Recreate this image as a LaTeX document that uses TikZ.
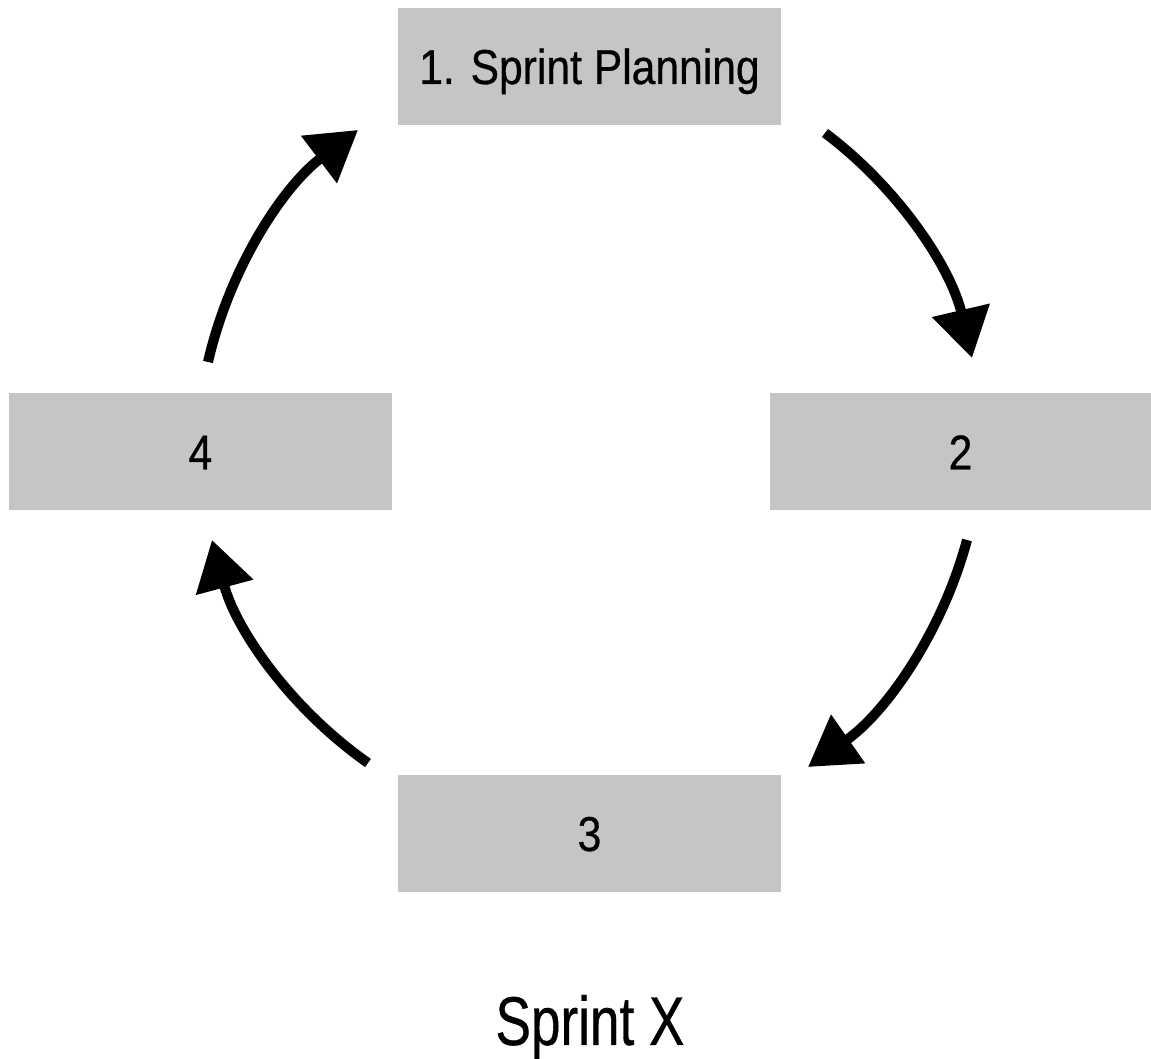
\documentclass[tikz,border=0pt]{standalone}
\usepackage{fontspec}
\setmainfont{Liberation Sans}
\newfontfamily\boxfont{Liberation Sans}[FakeStretch=0.87,FakeBold=0.6]
\newfontfamily\titlefont{Liberation Sans}[FakeStretch=0.77,FakeBold=0.5]
\usetikzlibrary{arrows.meta}
\definecolor{boxgray}{RGB}{197,197,197}
\tikzset{
  phase/.style={fill=boxgray, draw=none, inner sep=0pt, minimum width=383pt, minimum height=117pt,
    font=\boxfont\fontsize{49}{55}\selectfont, text height=35pt, text depth=0pt},
  cyc/.style={line width=10pt, -{Triangle[length=49pt,width=57pt]}, bend left=20, looseness=0.88}
}
\begin{document}
\begin{tikzpicture}[x=1pt,y=1pt]
\useasboundingbox (0,0) rectangle (1151,1059);
\fill[white] (0,0) rectangle (1151,1059);
\node[phase] (p1) at (589.5,992.5) {1. Sprint Planning};
\node[phase, minimum width=381pt] (p2) at (960.5,607) {2};
\node[phase] (p3) at (589.5,225.5) {3};
\node[phase] (p4) at (200.5,607) {4};
\node[font=\titlefont\fontsize{69}{75}\selectfont, anchor=base] (title) at (590,14) {Sprint X};
\coordinate (a1s) at (825,926);
\coordinate (a1e) at (972,701);
\coordinate (a2s) at (967,519);
\coordinate (a2e) at (808,292);
\coordinate (a3s) at (368,296);
\coordinate (a3e) at (212,519);
\coordinate (a4s) at (208,697);
\coordinate (a4e) at (358,929);
\draw[cyc] (a1s) to (a1e);
\draw[cyc] (a2s) to (a2e);
\draw[cyc] (a3s) to (a3e);
\draw[cyc] (a4s) to (a4e);
\end{tikzpicture}
\end{document}
